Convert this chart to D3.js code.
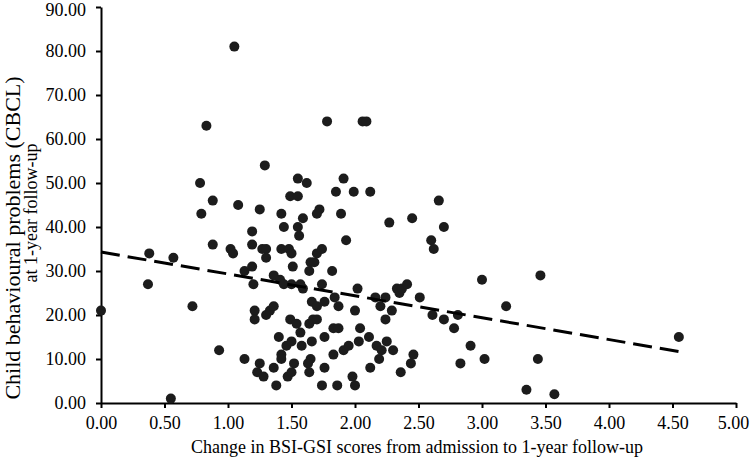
<!DOCTYPE html>
<html lang="en">
    <head>
        <meta charset="utf-8">
        <title>BSI-GSI change vs CBCL</title>
        <script type="text/javascript" src="https://d3js.org/d3.v7.min.js"></script>
        <style>
            body {
                margin: 0;
                background: #fff;
            }
            svg text {
                font-family: "Liberation Serif", "Times New Roman", serif;
                fill: #000;
            }
            .axis text {
                font-size: 18px;
            }
            .axis path, .axis line {
                stroke: #000;
                stroke-width: 2;
            }
        </style>
    </head>
    <body>
        <script>
            // data
            const bsiChange = [0.00, 0.37, 0.38, 0.55, 0.57, 0.72, 0.78, 0.79, 0.83, 0.88, 0.88, 0.93,
                1.02, 1.04, 1.05, 1.08, 1.13, 1.19, 1.13, 1.19, 1.19, 1.20, 1.21, 1.21, 1.25, 1.29,
                1.27, 1.30, 1.30, 1.25, 1.23, 1.28, 1.30, 1.33, 1.36, 1.36, 1.41, 1.44, 1.36, 1.38,
                1.40, 1.42, 1.42, 1.44, 1.42, 1.42, 1.46, 1.50, 1.47, 1.50, 1.52, 1.49, 1.54, 1.48,
                1.50, 1.49, 1.55, 1.55, 1.51, 1.50, 1.55, 1.56, 1.57, 1.59, 1.57, 1.58, 1.59, 1.62,
                1.64, 1.67, 1.70, 1.66, 1.65, 1.63, 1.64, 1.65, 1.68, 1.64, 1.66, 1.70, 1.76, 1.70,
                1.74, 1.72, 1.70, 1.74, 1.76, 1.76, 1.74, 1.78, 1.82, 1.83, 1.87, 1.83, 1.84, 1.87,
                1.85, 1.89, 1.91, 1.93, 1.86, 1.91, 1.95, 1.98, 2.00, 1.99, 2.02, 2.00, 2.04, 2.03,
                2.06, 2.09, 2.11, 2.12, 2.12, 2.16, 2.20, 2.24, 2.29, 2.24, 2.17, 2.21, 2.25, 2.30,
                2.19, 2.27, 2.33, 2.35, 2.37, 2.41, 2.36, 2.45, 2.46, 2.44, 2.51, 2.60, 2.62, 2.66,
                2.70, 2.61, 2.70, 2.81, 2.78, 2.91, 2.83, 3.00, 3.02, 3.19, 3.35, 3.44, 3.46, 3.57,
                4.55];
            const cbcl = [21, 27, 34, 1, 33, 22, 50, 43, 63, 46, 36, 12,
                35, 34, 81, 45, 30, 31, 10, 39, 36, 27, 21, 19, 44, 54,
                35, 35, 33, 9, 7, 6, 20, 21, 22, 29, 28, 27, 8, 4,
                15, 43, 35, 40, 11, 10, 13, 14, 6, 7, 9, 19, 18, 35,
                34, 47, 47, 51, 31, 27, 40, 38, 27, 26, 16, 13, 42, 50,
                18, 19, 19, 14, 10, 9, 7, 32, 32, 30, 23, 22, 23, 34,
                35, 44, 43, 27, 15, 8, 4, 64, 30, 17, 17, 11, 24, 22,
                48, 43, 51, 37, 4, 12, 13, 6, 4, 48, 26, 21, 17, 14,
                64, 64, 15, 8, 48, 24, 22, 24, 21, 19, 13, 12, 14, 12,
                10, 41, 26, 25, 26, 27, 7, 42, 11, 9, 24, 37, 35, 46,
                40, 20, 19, 20, 17, 13, 9, 28, 10, 22, 3, 10, 29, 2,
                15];
            const dataset = bsiChange.map(function(d, i){ return [d, cbcl[i]]; });

            // linear trend (dashed), as drawn in the picture
            const trendX = [0, 4.55];
            const trendIntercept = 34.3;
            const trendSlope = -4.97;

            const xTicks = [0, 0.5, 1, 1.5, 2, 2.5, 3, 3.5, 4, 4.5, 5];
            const yTicks = [0, 10, 20, 30, 40, 50, 60, 70, 80, 90];

            // svg
            const w = 750;
            const h = 459;
            const svg = d3.select("body")
                        .append("svg")
                        .attr("width", w)
                        .attr("height", h);

            // scales
            const xScale = d3.scaleLinear()
                            .domain([0, 5])
                            .range([101, 736]);
            const yScale = d3.scaleLinear()
                            .domain([0, 90])
                            .range([403, 7]);

            const fmt = d3.format(".2f");

            // axes
            const xAxis = d3.axisBottom(xScale)
                            .tickValues(xTicks)
                            .tickFormat(fmt)
                            .tickSize(5)
                            .tickSizeOuter(0)
                            .tickPadding(8);
            const yAxis = d3.axisLeft(yScale)
                            .tickValues(yTicks)
                            .tickFormat(fmt)
                            .tickSize(5)
                            .tickSizeOuter(0)
                            .tickPadding(10);

            const gx = svg.append("g")
                .attr("class", "axis")
                .attr("transform", `translate(0,${yScale(0)})`)
                .call(xAxis);

            const gy = svg.append("g")
                .attr("class", "axis")
                .attr("transform", `translate(${xScale(0)},0)`)
                .call(yAxis);

            // keep the end labels inside the picture
            gx.selectAll(".tick text")
                .filter(function(d){ return d === 5; })
                .attr("dx", "-3");
            gy.selectAll(".tick text")
                .filter(function(d){ return d === 90; })
                .attr("dy", "0.45em");

            // points
            svg.selectAll("circle")
                .data(dataset)
                .enter()
                .append("circle")
                .attr("cx", function(d){ return xScale(d[0]); })
                .attr("cy", function(d){ return yScale(d[1]); })
                .attr("r", 5)
                .style("fill", "#1c1c1c");

            // trend line
            const line = d3.line()
                .x(function(d){ return xScale(d); })
                .y(function(d){ return yScale(trendIntercept + trendSlope * d); });

            svg.append("path")
                .datum(trendX)
                .attr("d", line)
                .style("fill", "none")
                .style("stroke", "#000")
                .style("stroke-width", 3)
                .style("stroke-dasharray", "19,8");

            // axis titles
            svg.append("text")
                .attr("x", 417)
                .attr("y", 453)
                .attr("text-anchor", "middle")
                .style("font-size", "18px")
                .text("Change in BSI-GSI scores from admission to 1-year follow-up");

            // first line of the y title is set larger than the second
            svg.append("text")
                .attr("transform", "translate(20,238) rotate(-90)")
                .attr("text-anchor", "middle")
                .style("font-size", "22px")
                .text("Child behavioural problems (CBCL)");
            svg.append("text")
                .attr("transform", "translate(37,213) rotate(-90)")
                .attr("text-anchor", "middle")
                .style("font-size", "18px")
                .text("at 1-year follow-up");
        </script>
    </body>
</html>
